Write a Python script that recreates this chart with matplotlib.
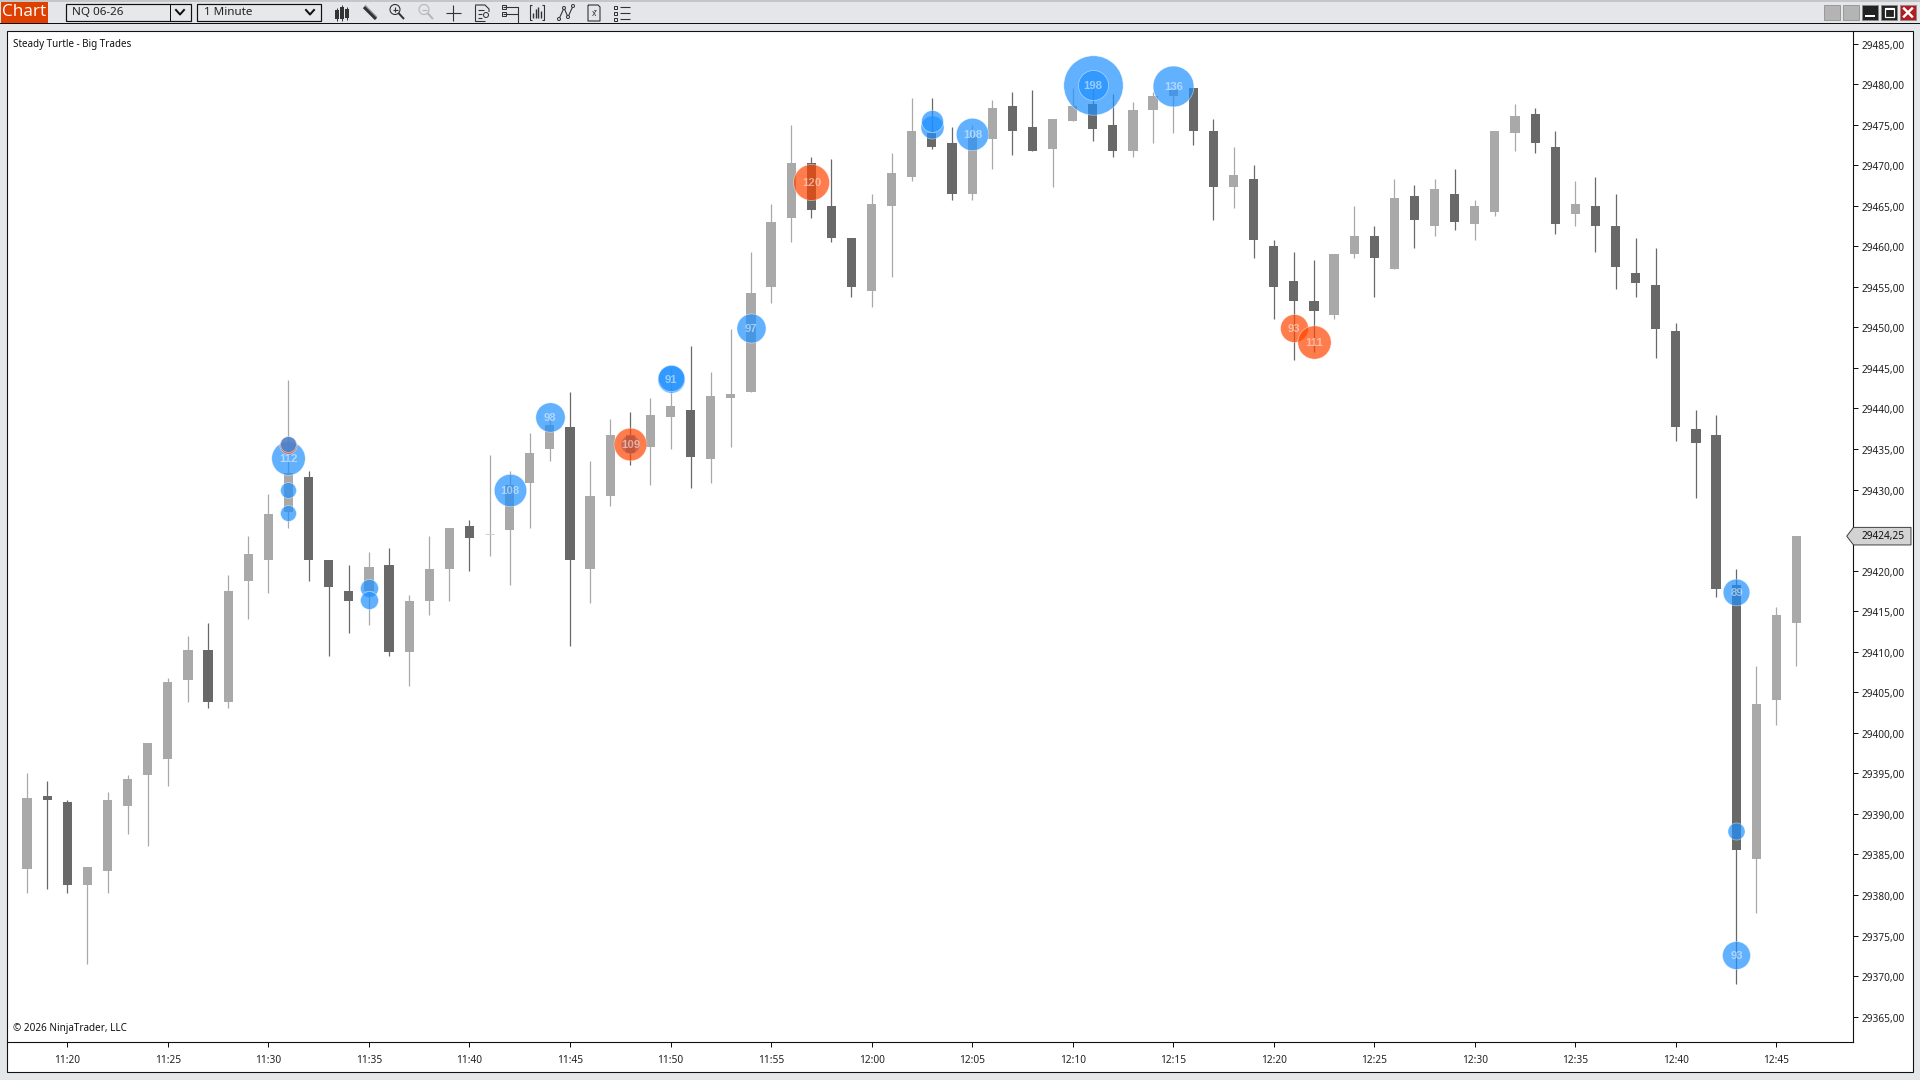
import matplotlib
matplotlib.use("Agg")
import matplotlib.pyplot as plt
from matplotlib.patches import Rectangle, Polygon, Circle
from matplotlib.transforms import ScaledTranslation
import numpy as np

plt.rcParams["font.family"] = ["Noto Sans", "DejaVu Sans"]

# minutes past 11:00, one bar per minute
minutes = list(range(18, 107))

opens = [
    29383.25, 29392.25, 29391.5, 29381.25, 29383, 29391, 29394.75, 29396.75, 29406.5, 29410.25,
    29403.75, 29418.75, 29421.25, 29427.25, 29431.5, 29421.25, 29417.5, 29417.5, 29420.75, 29410,
    29416.25, 29420.25, 29425.5, 29424.5, 29425, 29430.75, 29435, 29437.75, 29420.25, 29429.25,
    29436.75, 29435.25, 29439, 29439.75, 29433.75, 29441.25, 29442, 29455, 29463.5, 29470.25,
    29465, 29461, 29454.5, 29465, 29468.5, 29474, 29472.75, 29466.5, 29473.25, 29477.25,
    29474.75, 29472, 29475.5, 29477.5, 29475, 29471.75, 29476.75, 29478.5, 29479.5, 29474.25,
    29467.25, 29468.25, 29460, 29455.75, 29453.25, 29451.5, 29459, 29461.25, 29457.25, 29466.25,
    29462.5, 29466.5, 29462.75, 29464.25, 29474, 29476.25, 29472.25, 29464, 29465, 29462.5,
    29456.75, 29455.25, 29449.5, 29437.5, 29436.75, 29418.25, 29384.5, 29404, 29413.5,
]
closes = [
    29392, 29391.75, 29381.25, 29383.5, 29391.75, 29394.25, 29398.75, 29406.25, 29410.25, 29403.75,
    29417.5, 29422, 29427, 29432, 29421.25, 29418, 29416.25, 29420.5, 29410, 29416.25,
    29420.25, 29425.25, 29424, 29424.5, 29430.5, 29434.5, 29438, 29421.25, 29429.25, 29436.75,
    29434.5, 29439.25, 29440.25, 29434, 29441.5, 29441.75, 29454.25, 29463, 29470.25, 29464.5,
    29461, 29455, 29465.25, 29469, 29474.25, 29472.25, 29466.5, 29473.5, 29477, 29474.25,
    29471.75, 29475.75, 29477.25, 29474.5, 29471.75, 29476.75, 29478.5, 29479.25, 29474.25, 29467.25,
    29468.75, 29460.75, 29455, 29453.25, 29452, 29459, 29461.25, 29458.5, 29466, 29463.25,
    29467, 29463, 29465, 29474.25, 29476, 29472.75, 29462.75, 29465.25, 29462.5, 29457.5,
    29455.5, 29449.75, 29437.75, 29435.75, 29417.75, 29385.5, 29403.5, 29414.5, 29424.25,
]
highs = [
    29395, 29394, 29391.75, 29383.5, 29392.75, 29394.75, 29398.75, 29406.75, 29412, 29413.5,
    29419.5, 29424.25, 29429.5, 29443.5, 29432.25, 29421.25, 29420.75, 29422.25, 29422.75, 29417,
    29424.25, 29425.25, 29426.25, 29434.25, 29432.25, 29437, 29439.25, 29442, 29433.5, 29438.75,
    29439.5, 29441.25, 29445, 29447.75, 29444.5, 29449.75, 29459.25, 29465.25, 29475, 29471,
    29470.75, 29461, 29466.5, 29471.5, 29478.25, 29478.25, 29474.75, 29475, 29478, 29479,
    29479.25, 29475.75, 29479.5, 29479.5, 29478.75, 29477.75, 29479, 29479.25, 29479.5, 29475.75,
    29472.25, 29470, 29460.75, 29459.25, 29458.25, 29459, 29465, 29462.5, 29468.25, 29467.5,
    29468.25, 29469.5, 29465.75, 29474.25, 29477.5, 29477, 29474.25, 29468, 29468.5, 29466.5,
    29461, 29459.75, 29450.5, 29439.75, 29439.25, 29420.25, 29408.25, 29415.5, 29424.25,
]
lows = [
    29380.25, 29380.75, 29380.25, 29371.5, 29380.25, 29387.5, 29386, 29393.5, 29403.75, 29403,
    29403, 29414, 29417.25, 29425.25, 29418.75, 29409.5, 29412.25, 29413.25, 29409.5, 29405.75,
    29414.5, 29416.25, 29420, 29421.75, 29418.25, 29425.25, 29433.5, 29410.75, 29416, 29428,
    29433, 29430.5, 29435, 29430.25, 29430.75, 29435.25, 29442, 29453, 29460.5, 29463.5,
    29460.5, 29453.75, 29452.5, 29456.25, 29468, 29472, 29465.75, 29465.75, 29469.5, 29471.25,
    29471.75, 29467.25, 29475.5, 29473, 29471, 29471, 29472.75, 29474, 29472.5, 29463.25,
    29464.75, 29458.5, 29451, 29446, 29447, 29451, 29458.5, 29453.75, 29457.25, 29459.75,
    29461.25, 29462, 29460.75, 29463.75, 29471.75, 29471.5, 29461.5, 29462.5, 29459.25, 29454.75,
    29453.75, 29446.25, 29436, 29429, 29416.75, 29369, 29377.75, 29401, 29408.25,
]
last_price = 29424.25

# big trades, drawn in this order. side: b = blue, s = orange
bub_min = [71, 71, 75, 63, 63, 65, 54, 50, 50, 44, 42, 48, 48, 57,
           81, 82, 103, 103, 103, 31, 31, 31, 31, 31, 35, 35]
bub_price = [29479.9, 29479.9, 29479.7, 29474.65, 29475.45, 29473.85, 29449.95,
             29443.6, 29443.7, 29438.95, 29429.95, 29435.65, 29435.65, 29467.9,
             29449.9, 29448.25, 29417.4, 29387.9, 29372.65,
             29433.95, 29435.45, 29435.6, 29429.95, 29427.15, 29417.9, 29416.4]
bub_vol = [198, 100, 136, 77, 73, 108, 97, 91, 88, 98, 108, 63, 109, 120,
           93, 111, 89, 57, 93, 112, 58, 53, 53, 53, 60, 60]
bub_side = ["b", "b", "b", "b", "b", "b", "b", "b", "b", "b", "b", "b", "s", "s",
            "s", "s", "b", "b", "b", "b", "s", "b", "b", "b", "b", "b"]
bub_label = ["198", "", "136", "", "", "108", "97", "91", "", "98", "108", "", "109", "120",
             "93", "111", "89", "", "93", "112", "", "", "", "", "", ""]

y_ticks = [v for v in range(29365, 29490, 5) if v != 29425]
x_ticks = list(range(20, 110, 5))
x_labels = ["%d:%02d" % (11 + m // 60, m % 60) for m in x_ticks]

W, H = 1920, 1080
L, R, T, B = 7.3, 1853.0, 30.7, 1041.8
PANEL_R, PANEL_B = 1912.7, 1072.4
UP = "#A9A9A9"
DOWN = "#696969"
BLUE = (0.118, 0.565, 1.0, 0.7)
ORANGE = (1.0, 0.271, 0.0, 0.7)
PX = 0.72  # one pixel in points at dpi 100

fig = plt.figure(figsize=(W / 100, H / 100), dpi=100, facecolor="#E4E6E9")

# window chrome in pixel coordinates
bg = fig.add_axes([0, 0, 1, 1], zorder=0)
bg.set_xlim(0, W)
bg.set_ylim(H, 0)
bg.axis("off")
bg.add_patch(Rectangle((0, 0), W, 2, fc="#C4C6C8", ec="none"))
bg.add_patch(Rectangle((0, 23), W, 1.2, fc="#111111", ec="none"))
bg.add_patch(Rectangle((L, T), PANEL_R - L, PANEL_B - T, fc="white", ec="#111111", lw=1.1 * PX))

# Chart tab
bg.add_patch(Rectangle((1, 2), 47, 21, fc="#DF4000", ec="none"))
bg.text(24.5, 12, "Chart", color="white", fontsize=12.4, ha="center", va="center", family="Open Sans")


def combo(x0, x1, text, divider=None):
    bg.add_patch(Rectangle((x0, 3.5), x1 - x0, 17, fc="#E6E8EA", ec="#111111", lw=1.2 * PX))
    bg.text(x0 + 6.5, 12.6, text, color="#222222", fontsize=8.4, va="center")
    if divider:
        bg.plot([divider, divider], [3.5, 20.5], color="#111111", lw=1.0 * PX)
    cx = divider + 10 if divider else x1 - 11
    bg.plot([cx - 4, cx, cx + 4], [10, 14.5, 10], color="#111111", lw=2.0 * PX)


combo(66, 190.6, "NQ 06-26", divider=170)
combo(197, 321, "1 Minute")


def ln(xs, ys, c="#333333", w=1.1):
    bg.plot(xs, ys, color=c, lw=w * PX, solid_capstyle="butt")


def magnifier(cx, c, plus):
    bg.add_patch(Circle((cx - 2, 9.5), 5, fc="none", ec=c, lw=1.1 * PX))
    ln([cx - 4.5, cx + 0.5], [9.5, 9.5], c)
    if plus:
        ln([cx - 2, cx - 2], [7, 12], c)
    ln([cx + 1.5, cx + 7], [13, 19], c, 2.0)


# candlestick icon
for bx, y0, y1 in [(337, 10, 19), (342, 7, 19), (347, 9, 18)]:
    bg.add_patch(Rectangle((bx - 2, y0), 4, y1 - y0, fc="#333333", ec="none"))
    ln([bx, bx], [y0 - 2, y1 + 2], "#333333", 1.0)
# pencil icon
ln([364, 376], [7, 19], "#333333", 3.2)
ln([365, 377], [5, 17], "#999999", 1.0)
magnifier(397, "#333333", True)
magnifier(426, "#B4B6B8", False)
ln([446, 461], [13, 13])
ln([453, 453], [5, 21])
# page icon
ln([475, 485, 489, 489], [5, 5, 9, 12])
ln([475, 475, 485], [5, 21, 21])
ln([478, 484], [10, 10])
ln([478, 482], [14, 14])
ln([478, 482], [18, 18])
bg.add_patch(Circle((486, 15), 2.5, fc="none", ec="#333333", lw=1.0 * PX))
# properties icon
ln([503, 518, 518], [7, 7, 23.0])
ln([503, 518], [14, 14])
bg.add_patch(Rectangle((502, 5), 4, 4, fc="none", ec="#333333", lw=1.0 * PX))
bg.add_patch(Rectangle((502, 12), 4, 4, fc="none", ec="#333333", lw=1.0 * PX))
# data box icon
ln([532, 530, 530, 532], [5, 5, 20, 20])
ln([542, 544, 544, 542], [5, 5, 20, 20])
for bx, y0 in [(533, 13), (535.5, 9), (538, 7), (540.5, 11)]:
    ln([bx, bx], [y0, 18], "#333333", 1.4)
# drawing tool icon
ln([559, 564, 568, 573], [19, 8, 17, 6])
for cx, cy in [(559, 19), (564, 8), (568, 17), (573, 6)]:
    bg.add_patch(Circle((cx, cy), 1.5, fc="#E6E8EA", ec="#333333", lw=1.0 * PX, zorder=3))
# strategy icon
ln([588, 598, 600, 600, 588, 588], [5, 5, 7, 21, 21, 5])
bg.text(594, 13, "x\u0304", fontsize=6, ha="center", va="center", color="#333333")
# list icon
for yy in [7, 13, 19]:
    bg.add_patch(Rectangle((614, yy - 1.5), 3, 3, fc="none", ec="#333333", lw=1.0 * PX))
    ln([620, 630], [yy, yy])

# window buttons
for x0 in [1824.3, 1843.3]:
    bg.add_patch(Rectangle((x0, 4.7), 15.5, 15.5, fc="#B4B4B4", ec="#8E8E8E", lw=0.8 * PX))
bg.add_patch(Rectangle((1862.3, 4.7), 15.5, 15.5, fc="#222222", ec="#8A8A8A", lw=0.8 * PX))
bg.add_patch(Rectangle((1865, 15), 10, 2.2, fc="white", ec="none"))
bg.add_patch(Rectangle((1881.3, 4.7), 15.5, 15.5, fc="#222222", ec="#8A8A8A", lw=0.8 * PX))
bg.add_patch(Rectangle((1884.5, 8), 9, 9, fc="none", ec="white", lw=1.2 * PX))
bg.add_patch(Rectangle((1884.5, 8), 9, 2, fc="white", ec="none"))
bg.add_patch(Rectangle((1900.3, 4.7), 15.5, 15.5, fc="#B01E24", ec="#8A8A8A", lw=0.8 * PX))
bg.plot([1904, 1912], [8.5, 16.5], color="white", lw=2.4 * PX)
bg.plot([1904, 1912], [16.5, 8.5], color="white", lw=2.4 * PX)

# price chart
ax = fig.add_axes([L / W, 1 - B / H, (R - L) / W, (B - T) / H], zorder=1)
ax.patch.set_alpha(0)
ax.set_xlim(17.016, 108.81)
ax.set_ylim(29361.9, 29486.58)

colors = [UP if c >= o else DOWN for o, c in zip(opens, closes)]
tops = np.maximum(opens, closes)
bottoms = np.minimum(opens, closes)
ax.vlines(minutes, lows, highs, colors=colors, lw=1.25 * PX, zorder=2)
ax.bar(minutes, tops - bottoms, bottom=bottoms, width=9.2 / 20.106, color=colors, lw=0, zorder=3)
# bars with no body still print a dash
for m, o, c, col in zip(minutes, opens, closes, colors):
    if o == c:
        ax.hlines(o, m - 0.23, m + 0.23, colors="#CFCFCF", lw=1.0 * PX, zorder=3)

sizes = [(0.3 * v * PX) ** 2 for v in bub_vol]
fills = [BLUE if s == "b" else ORANGE for s in bub_side]
for m, p, sz, f in zip(bub_min, bub_price, sizes, fills):
    ax.scatter(m, p, s=sz, color=[f], edgecolors=[(1, 1, 1, 0.55)], linewidths=0.7 * PX, zorder=4)
down_1px = ScaledTranslation(0, -1 / 100, fig.dpi_scale_trans)
for m, p, txt in zip(bub_min, bub_price, bub_label):
    if txt:
        ax.text(m + 0.02, p, txt, color=(1, 1, 1, 0.5), fontsize=8.2, fontweight="bold",
                family="Liberation Sans", ha="center", va="center", zorder=5,
                transform=ax.transData + down_1px)

for name in ["left", "top"]:
    ax.spines[name].set_visible(False)
for name in ["right", "bottom"]:
    ax.spines[name].set_color("#111111")
    ax.spines[name].set_linewidth(1.1 * PX)
ax.yaxis.tick_right()
ax.set_yticks(y_ticks)
ax.set_yticklabels([("%.2f" % v).replace(".", ",") for v in y_ticks])
ax.set_xticks(x_ticks)
ax.set_xticklabels(x_labels)
ax.tick_params(axis="y", length=5 * PX, width=1.0 * PX, pad=4 * PX, labelsize=7.3, labelcolor="#222222", color="#111111")
ax.tick_params(axis="x", length=5.4 * PX, width=1.0 * PX, pad=8 * PX, labelsize=7.3, labelcolor="#222222", color="#111111")
for lab in ax.get_yticklabels():
    lab.set_transform(lab.get_transform() + down_1px)

# texts and the last price marker on a top layer
top = fig.add_axes([0, 0, 1, 1], zorder=2)
top.set_xlim(0, W)
top.set_ylim(H, 0)
top.axis("off")
top.patch.set_alpha(0)
top.text(13.4, 44, "Steady Turtle - Big Trades", color="#111111", fontsize=7.1, va="center")
top.text(13.3, 1028.5, "\u00a9 2026 NinjaTrader, LLC", color="#111111", fontsize=7.15, va="center")

my = ax.transData.transform((0, last_price))[1]
my = H - my
top.add_patch(Polygon([(1846.7, my), (1853.5, my - 8.8), (1911, my - 8.8), (1911, my + 8.8), (1853.5, my + 8.8)],
                      closed=True, fc="#D3D3D3", ec="#333333", lw=0.9 * PX))
top.text(1862, my + 0.8, ("%.2f" % last_price).replace(".", ","), color="#111111", fontsize=7.3, va="center")

fig.savefig("out.png", dpi=100, facecolor=fig.get_facecolor())
